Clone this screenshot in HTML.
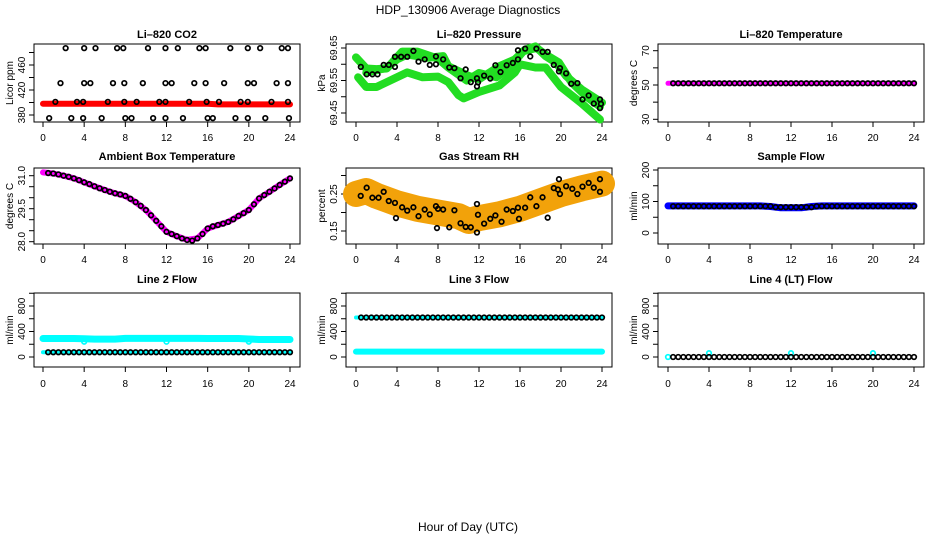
<!DOCTYPE html>
<html><head><meta charset="utf-8"><style>
body{margin:0;background:#fff;}
svg{display:block;font-family:"Liberation Sans",sans-serif;}
</style></head><body>
<svg id="chart" width="936" height="540" viewBox="0 0 936 540">
<text x="468" y="14" text-anchor="middle" font-size="12">HDP_130906  Average Diagnostics</text>
<text x="468" y="531" text-anchor="middle" font-size="12">Hour of Day (UTC)</text>
</svg>
<script>
// ---------- data ----------
const xTicks = [0,4,8,12,16,20,24];
const H48 = [0.5,1,1.5,2,2.5,3,3.5,4,4.5,5,5.5,6,6.5,7,7.5,8,8.5,9,9.5,10,10.5,11,11.5,12,12.5,13,13.5,14,14.5,15,15.5,16,16.5,17,17.5,18,18.5,19,19.5,20,20.5,21,21.5,22,22.5,23,23.5,24];
const H25 = [0,1,2,3,4,5,6,7,8,9,10,11,12,13,14,15,16,17,18,19,20,21,22,23,24];

// CO2
const co2Line = [398,398,398,398,398,398,398,398,398,398,398,398,398,398,398,398,398,397,397,397,397,397,397,397,397];
const co2TopH = [2.2,4.0,5.1,7.2,7.8,10.2,11.9,13.1,15.2,15.8,18.2,19.9,21.1,23.2,23.8];
const co2TopV = [487,487,487,487,487,487,487,487,487,487,487,487,487,487,487];
const co2MidH = [1.7,4.0,4.6,6.8,7.9,9.7,11.9,12.5,14.7,15.8,17.6,19.9,20.5,22.7,23.8];
const co2MidV = [431,431,431,431,431,431,431,431,431,431,431,431,431,431,431];
const co2LowH = [1.2,3.3,3.9,6.3,7.9,9.1,11.3,11.9,14.2,15.9,17.1,19.2,19.9,22.2,23.8];
const co2LowV = [401,401,401,401,401,401,401,401,401,401,401,401,401,401,401];
const co2BotH = [0.6,2.75,3.9,5.7,8.0,8.6,10.7,11.9,13.6,16.0,16.5,18.7,19.9,21.6,23.9];
const co2BotV = [375,375,375,375,375,375,375,375,375,375,375,375,375,375,375];

// Pressure
const presAH = [0,1,2,3,4.5,6,8,9,10.8,12,13.7,15,16.3,17.6,18.5,19.8,21,22.5,23.8];
const presAV = [69.621,69.587,69.585,69.587,69.639,69.639,69.617,69.59,69.55,69.573,69.56,69.59,69.64,69.65,69.63,69.605,69.545,69.5,69.47];
const presBH = [0.2,1,2,4,5,6.5,8,9,10,10.5,12,14,15.5,16,17.5,18.5,20,22,23.8];
const presBV = [69.56,69.53,69.53,69.56,69.575,69.56,69.562,69.545,69.505,69.495,69.515,69.535,69.575,69.6,69.59,69.59,69.53,69.48,69.43];
const presCH = [1,3,4,5,7,8.5,9,11,12,13,14,15.5,16.5,17.5,18.5,19.5,20.5,22,24];
const presCV = [69.574,69.589,69.615,69.63,69.62,69.625,69.594,69.564,69.554,69.574,69.594,69.615,69.645,69.655,69.625,69.605,69.564,69.523,69.482];
const presPtH = [0.47,1.04,1.6,2.1,2.7,3.2,3.8,3.8,4.4,5.0,5.6,6.1,6.7,7.2,7.8,7.8,8.5,9.1,9.6,10.2,10.7,11.2,11.8,11.8,11.9,12.5,13.1,13.6,14.1,14.7,15.3,15.8,15.8,16.5,17.0,17.6,18.2,18.7,19.3,19.8,19.9,20.5,21.0,21.6,22.7,22.1,23.2,23.8,23.8,23.9];
const presPtV = [69.592,69.569,69.569,69.569,69.598,69.598,69.592,69.623,69.623,69.623,69.641,69.608,69.615,69.598,69.624,69.6,69.615,69.59,69.588,69.557,69.584,69.545,69.557,69.532,69.544,69.565,69.556,69.597,69.576,69.597,69.604,69.615,69.643,69.648,69.624,69.648,69.638,69.638,69.598,69.578,69.588,69.572,69.54,69.542,69.504,69.492,69.479,69.492,69.465,69.478];

// Temperature
const tempLine = [51,51,51,51,51,51,51,51,51,51,51,51,51,51,51,51,51,51,51,51,51,51,51,51,51];
const tempPts = [51,51,51,51,51,51,51,51,51,51,51,51,51,51,51,51,51,51,51,51,51,51,51,51,51,51,51,51,51,51,51,51,51,51,51,51,51,51,51,51,51,51,51,51,51,51,51,51];

// Ambient box temperature
const ambLine = [31.15,31.1,31.0,30.88,30.7,30.52,30.35,30.2,30.08,29.8,29.44,28.95,28.45,28.25,28.08,28.15,28.6,28.76,28.9,29.17,29.44,29.97,30.27,30.58,30.88];
const ambPts = [31.12,31.1,31.06,31.0,30.95,30.88,30.8,30.7,30.62,30.52,30.43,30.35,30.27,30.2,30.15,30.08,29.95,29.8,29.63,29.44,29.2,28.95,28.7,28.45,28.35,28.25,28.15,28.08,28.05,28.15,28.35,28.6,28.7,28.76,28.82,28.9,29.02,29.17,29.3,29.44,29.7,29.97,30.12,30.27,30.42,30.58,30.73,30.88];

// Gas stream RH
const rhBandH = [0,1,2,4,6,8,10,11,12,14,16,18,20,22,24];
const rhBandV = [0.25,0.258,0.245,0.225,0.21,0.2,0.19,0.177,0.185,0.195,0.21,0.23,0.25,0.265,0.278];
const rhPtH = [0.46,1.04,1.6,2.2,2.7,3.2,3.8,3.9,4.5,5.0,5.6,6.1,6.7,7.2,7.8,7.9,8.0,8.5,9.1,9.6,10.2,10.7,11.2,11.8,11.8,11.9,12.5,13.1,13.6,14.2,14.7,15.3,15.8,15.9,16.5,17.0,17.6,18.2,18.7,19.3,19.7,19.8,19.9,20.5,21.1,21.6,22.1,22.7,23.2,23.8,23.8];
const rhPtV = [0.245,0.267,0.24,0.24,0.256,0.231,0.226,0.185,0.214,0.205,0.214,0.19,0.208,0.195,0.217,0.158,0.21,0.208,0.16,0.206,0.171,0.161,0.16,0.146,0.223,0.194,0.17,0.183,0.192,0.175,0.208,0.204,0.213,0.183,0.213,0.241,0.217,0.241,0.186,0.266,0.262,0.29,0.25,0.271,0.264,0.25,0.27,0.28,0.267,0.29,0.256];

// Sample flow
const sampLine = [86,86,86,86,86,86,86,86,86,86,84,80,80,80,84,86,86,86,86,86,86,86,86,86,86];
const sampPts = [85,85,85,85,85,85,85,85,85,85,85,85,85,85,85,85,85,85,85,85,82,82,82,82,82,82,82,82,85,85,85,85,85,85,85,85,85,85,85,85,85,85,85,85,85,85,85,85];

// Line 2 flow
const l2Upper = [290,290,290,290,285,280,280,280,292,292,292,292,292,292,292,292,290,290,290,290,282,275,275,275,275];
const l2Lower = [75,75,75,75,75,75,75,75,75,75,75,75,75,75,75,75,75,75,75,75,75,75,75,75,75];
const l2Pts = [75,75,75,75,75,75,75,75,75,75,75,75,75,75,75,75,75,75,75,75,75,75,75,75,75,75,75,75,75,75,75,75,75,75,75,75,75,75,75,75,75,75,75,75,75,75,75,75];
const l2DipH = [4,12,20];
const l2DipV = [240,240,240];

// Line 3 flow
const l3Upper = [620,620,620,620,620,620,620,620,620,620,620,620,620,620,620,620,620,620,620,620,620,620,620,620,620];
const l3Lower = [85,85,85,85,85,85,85,85,85,85,85,85,85,85,85,85,85,85,85,85,85,85,85,85,85];
const l3Pts = [620,620,620,620,620,620,620,620,620,620,620,620,620,620,620,620,620,620,620,620,620,620,620,620,620,620,620,620,620,620,620,620,620,620,620,620,620,620,620,620,620,620,620,620,620,620,620,620];

// Line 4 flow
const l4Pts = [0,0,0,0,0,0,0,0,0,0,0,0,0,0,0,0,0,0,0,0,0,0,0,0,0,0,0,0,0,0,0,0,0,0,0,0,0,0,0,0,0,0,0,0,0,0,0,0];
const l4BlipH = [0,4,12,20];
const l4BlipV = [0,60,60,60];

// ---------- drawing ----------
const NS = "http://www.w3.org/2000/svg";
const svg = document.getElementById("chart");
const cols = [{x0:43,x1:290,bl:34,br:300},{x0:356,x1:602,bl:346,br:612},{x0:668,x1:914,bl:658,br:924}];
const rows = [{top:44,bot:122,title:38,lab:141},{top:168,bot:244,title:160,lab:263},{top:293,bot:367,title:283,lab:387}];

function mk(tag, attrs, parent){
  const e = document.createElementNS(NS, tag);
  for (const k in attrs) e.setAttribute(k, attrs[k]);
  (parent||svg).appendChild(e);
  return e;
}
function scaleY(v1,p1,v2,p2){ return v => p1 + (v - v1) * (p2 - p1) / (v2 - v1); }

function panel(ci, ri, name, title, ylab, ys, ticks, labels){
  const c = cols[ci], r = rows[ri];
  const g = mk("g", {});
  
  
  const sx = h => c.x0 + h * (c.x1 - c.x0) / 24;
  const t = mk("text", {x:(c.bl+c.br)/2, y:r.title, "text-anchor":"middle", "font-size":"11", "font-weight":"bold"}, g);
  t.textContent = title;
  
  
  const box = mk("rect", {x:c.bl, y:r.top, width:c.br-c.bl, height:r.bot-r.top, fill:"none", stroke:"#000", "stroke-width":"1"}, g);
  
  
  xTicks.forEach(h => {
    const x = sx(h);
    const tk = mk("line", {x1:x, x2:x, y1:r.bot, y2:r.bot+5, stroke:"#000"}, g);
    
    
    const tl = mk("text", {x:x, y:r.lab, "text-anchor":"middle", "font-size":"10"}, g);
    tl.textContent = h;
    
    
  });
  ticks.forEach(v => {
    const y = ys(v);
    const tk = mk("line", {x1:c.bl-5, x2:c.bl, y1:y, y2:y, stroke:"#000"}, g);
    
    
  });
  labels.forEach(v => {
    const y = ys(v);
    const tl = mk("text", {x:0, y:0, "text-anchor":"middle", "font-size":"10", transform:`translate(${c.bl-9},${y}) rotate(-90)`}, g);
    tl.textContent = v;
    
    
  });
  const yl = mk("text", {x:0, y:0, "text-anchor":"middle", "font-size":"10", transform:`translate(${c.bl-21},${(r.top+r.bot)/2}) rotate(-90)`}, g);
  yl.textContent = ylab;
  
  
  return {g, sx, ys};
}
function band(p, hs, vs, color, w, name){
  const pts = hs.map((h,i) => p.sx(h).toFixed(1) + "," + p.ys(vs[i]).toFixed(1)).join(" ");
  const e = mk("polyline", {points:pts, fill:"none", stroke:color, "stroke-width":w, "stroke-linejoin":"round", "stroke-linecap":"round"}, p.g);
  
  
}
function dots(p, hs, vs, name, color){
  hs.forEach((h,i) => {
    const e = mk("circle", {cx:p.sx(h), cy:p.ys(vs[i]), r:2.3, fill:"none", stroke:color||"#000", "stroke-width":"1.7"}, p.g);
    
    
  });
}

// Row 1
let p = panel(0,0,"co2","Li–820 CO2","Licor ppm", scaleY(380,115,460,65), [380,400,420,440,460,480], [380,420,460]);
band(p, H25, co2Line, "#ff0000", 6, "co2-series");
dots(p, co2TopH, co2TopV, "co2-point");
dots(p, co2MidH, co2MidV, "co2-point");
dots(p, co2LowH, co2LowV, "co2-point");
dots(p, co2BotH, co2BotV, "co2-point");

p = panel(1,0,"pressure","Li–820 Pressure","kPa", scaleY(69.45,113,69.65,48), [69.45,69.5,69.55,69.6,69.65], ["69.45","69.55","69.65"]);
band(p, presAH, presAV, "#22dd22", 8, "pressure-band-a");
band(p, presBH, presBV, "#22dd22", 8, "pressure-band-b");
band(p, presCH, presCV, "#22dd22", 8, "pressure-band-c");
dots(p, presPtH, presPtV, "pressure-point");

p = panel(2,0,"temperature","Li–820 Temperature","degrees C", scaleY(30,119.3,70,50.7), [30,40,50,60,70], [30,50,70]);
band(p, H25, tempLine, "#ff00ff", 5, "temperature-series");
dots(p, H48, tempPts, "temperature-point");

// Row 2
p = panel(0,1,"ambient","Ambient Box Temperature","degrees C", scaleY(28,241.7,31,175.7), [28,28.5,29,29.5,30,30.5,31], ["28.0","29.5","31.0"]);
band(p, H25, ambLine, "#ff00ff", 6, "ambient-series");
dots(p, H48, ambPts, "ambient-point");

p = panel(1,1,"rh","Gas Stream RH","percent", scaleY(0.15,231,0.25,194), [0.15,0.2,0.25,0.3], ["0.15","0.25"]);
band(p, rhBandH, rhBandV, "#f2a20a", 26, "rh-band");
dots(p, rhPtH, rhPtV, "rh-point");

p = panel(2,1,"sample-flow","Sample Flow","ml/min", scaleY(0,233,200,170), [0,50,100,150,200], [0,100,200]);
band(p, H25, sampLine, "#0000ff", 7, "sample-flow-series");
dots(p, H48, sampPts, "sample-flow-point");

// Row 3
const flowTicks = [0,200,400,600,800,1000];
p = panel(0,2,"line2","Line 2 Flow","ml/min", scaleY(0,357,800,306), flowTicks, [0,400,800]);
band(p, H25, l2Upper, "#00ffff", 7, "line2-upper-series");
band(p, H25, l2Lower, "#00ffff", 4, "line2-lower-series");
dots(p, l2DipH, l2DipV, "line2-dip-point", "#00ffff");
dots(p, H48, l2Pts, "line2-point");

p = panel(1,2,"line3","Line 3 Flow","ml/min", scaleY(0,357,800,306), flowTicks, [0,400,800]);
band(p, H25, l3Upper, "#00ffff", 4, "line3-upper-series");
band(p, H25, l3Lower, "#00ffff", 6, "line3-lower-series");
dots(p, H48, l3Pts, "line3-point");

p = panel(2,2,"line4","Line 4 (LT) Flow","ml/min", scaleY(0,357,800,306), flowTicks, [0,400,800]);
dots(p, l4BlipH, l4BlipV, "line4-blip-point", "#00ffff");
dots(p, H48, l4Pts, "line4-point");
</script>
</body></html>
